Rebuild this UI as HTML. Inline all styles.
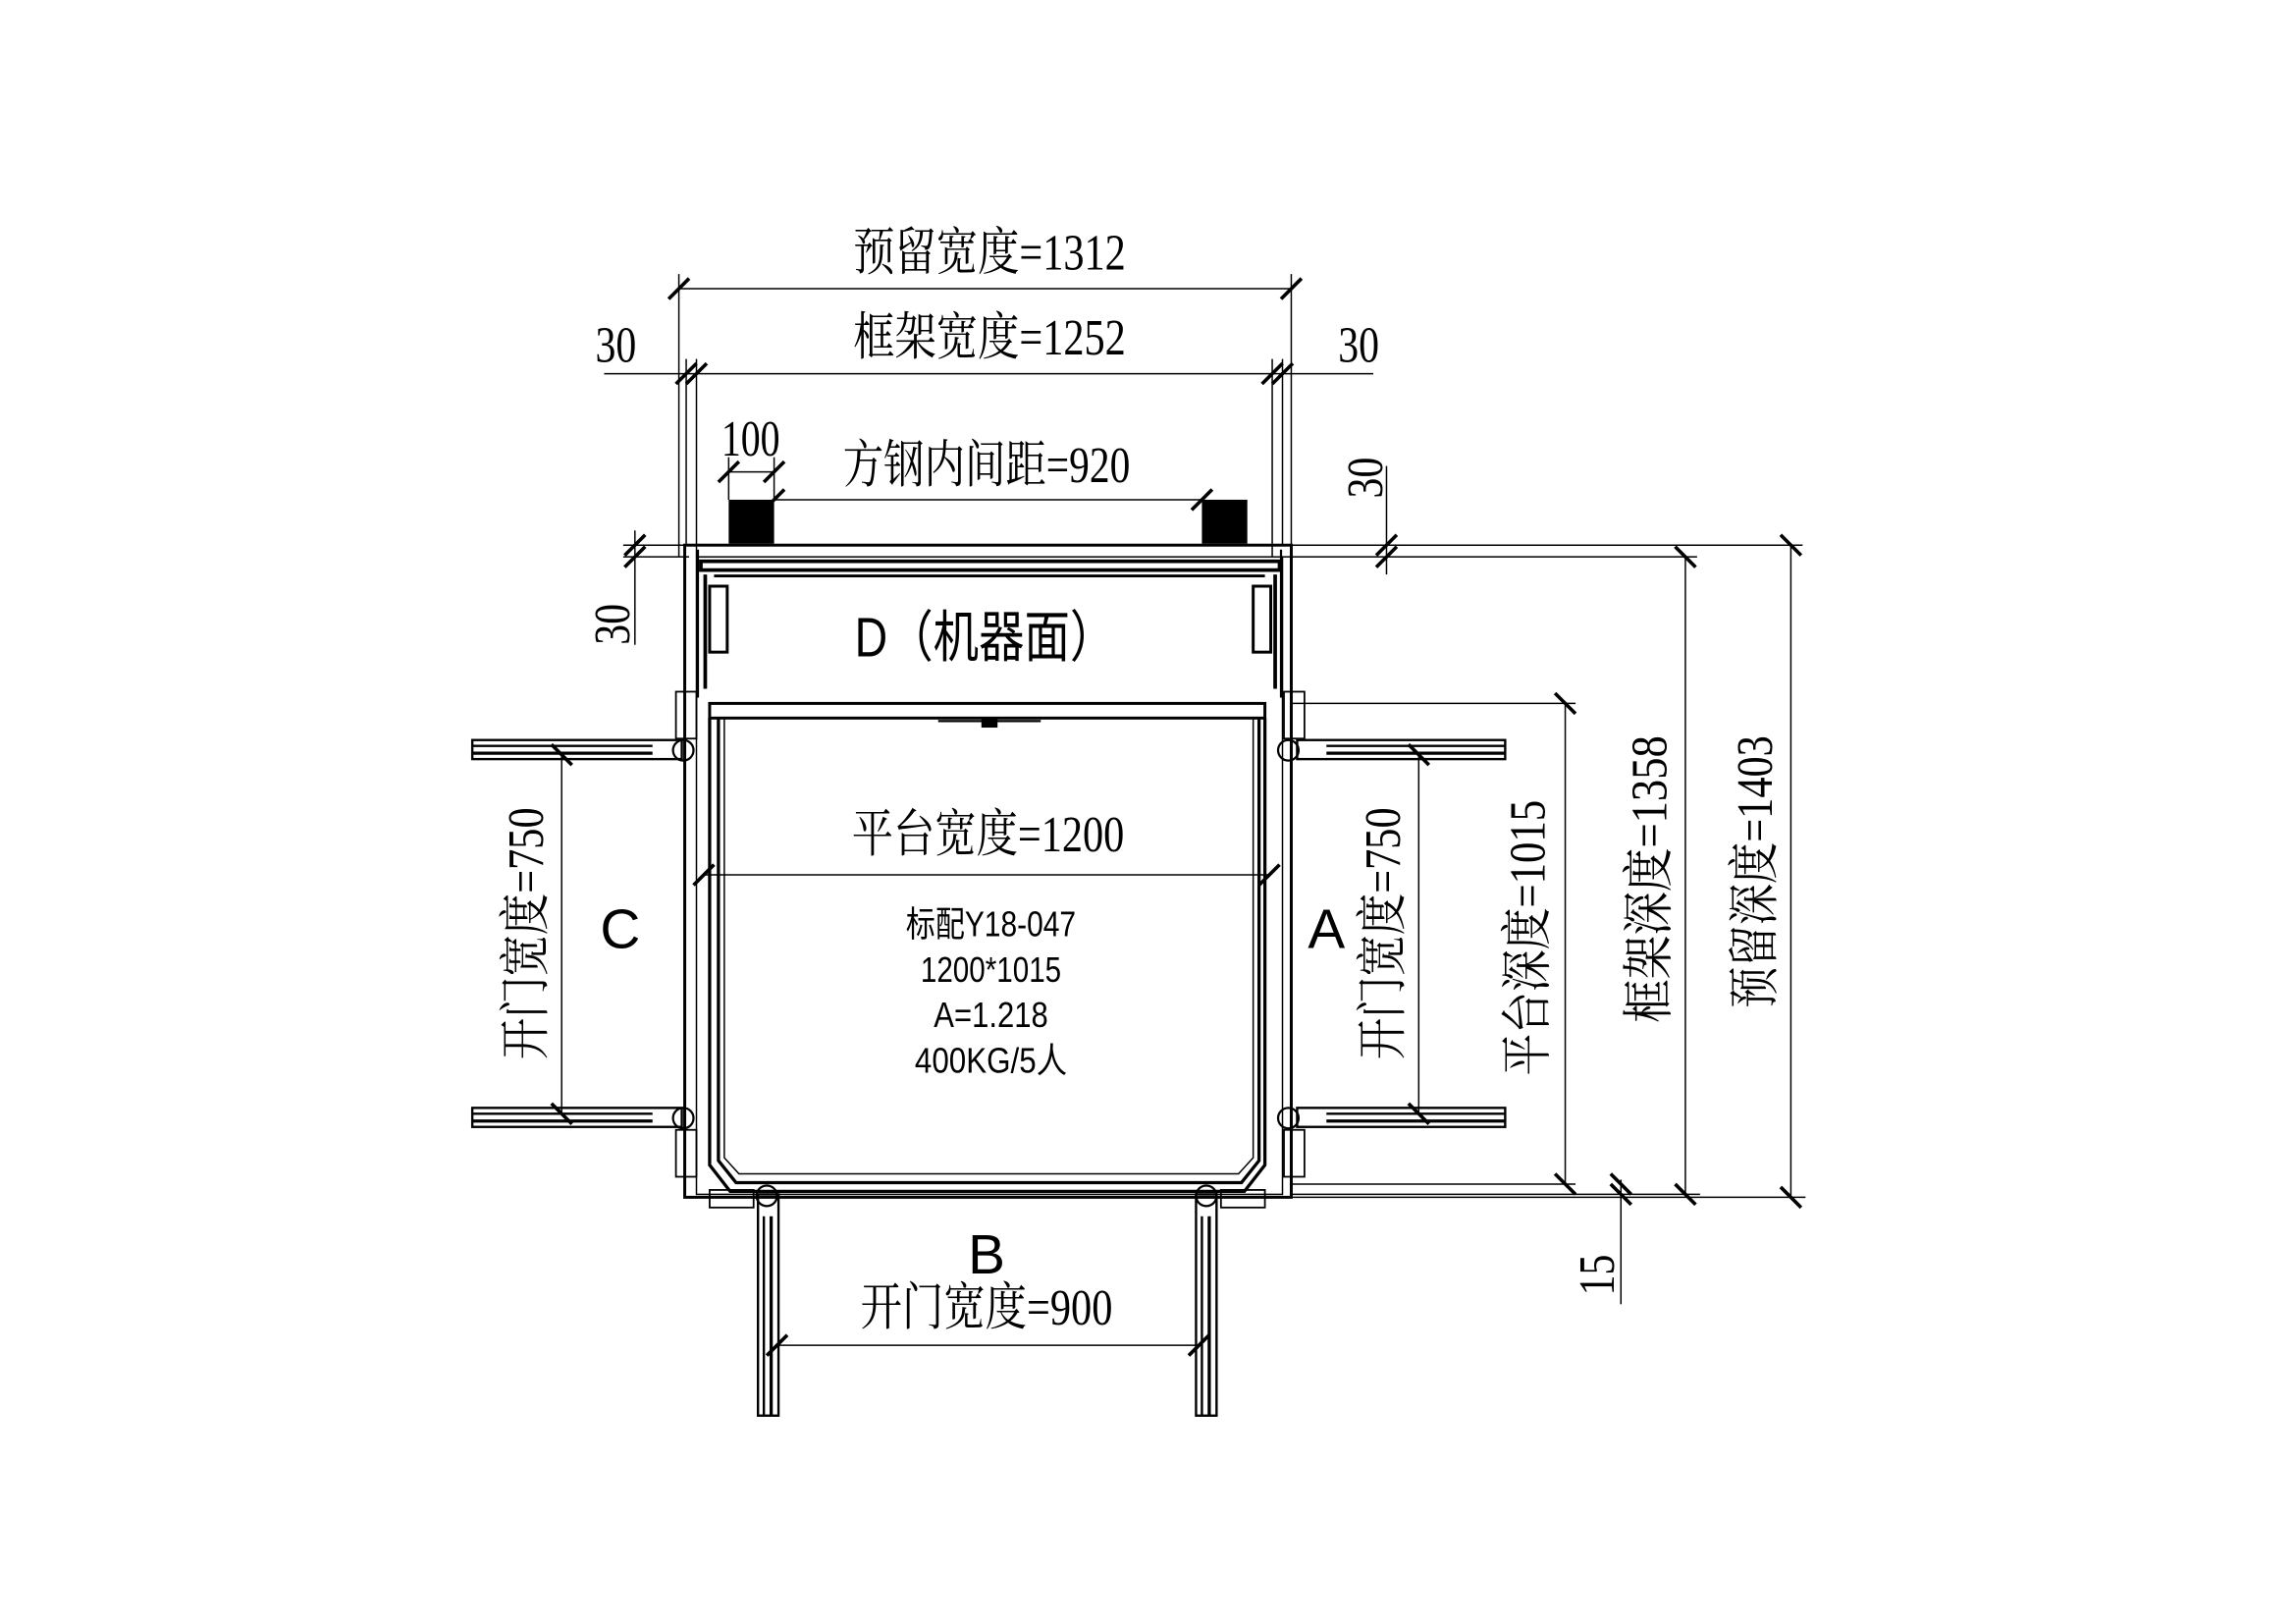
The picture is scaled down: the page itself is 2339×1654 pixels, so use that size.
<!DOCTYPE html>
<html><head><meta charset="utf-8"><style>
html,body{margin:0;padding:0;background:#fff}
svg{display:block}
text{font-family:"Liberation Serif","Noto Serif CJK SC","Noto Sans CJK SC",serif;fill:#000}
.s{font-family:"Liberation Sans","Noto Sans CJK SC",sans-serif}
</style></head><body>
<svg width="2339" height="1654" viewBox="0 0 1552 1098" xmlns="http://www.w3.org/2000/svg">
<g transform="scale(0.9908)">
<g stroke="#000" fill="none" stroke-width="1">
<line x1="463" y1="197" x2="881" y2="197"/>
<line x1="412" y1="255" x2="937" y2="255"/>
<line x1="463" y1="187" x2="463" y2="380"/>
<line x1="468" y1="245" x2="468" y2="372"/>
<line x1="475" y1="245" x2="475" y2="380"/>
<line x1="868" y1="245" x2="868" y2="380"/>
<line x1="875" y1="245" x2="875" y2="372"/>
<line x1="881" y1="187" x2="881" y2="380"/>
<line x1="497" y1="312" x2="497" y2="341"/>
<line x1="528" y1="312" x2="528" y2="341"/>
<line x1="497" y1="322" x2="528" y2="322"/>
<line x1="528" y1="341" x2="820" y2="341"/>
<line x1="881" y1="372" x2="1230" y2="372"/>
<line x1="875" y1="380" x2="1158" y2="380"/>
<line x1="425" y1="380" x2="470" y2="380"/>
<line x1="425" y1="372" x2="470" y2="372"/>
<line x1="946" y1="318" x2="946" y2="392"/>
<line x1="433" y1="362" x2="433" y2="440"/>
<line x1="880" y1="480" x2="1075" y2="480"/>
<line x1="880" y1="808" x2="1075" y2="808"/>
<line x1="880" y1="815" x2="1160" y2="815"/>
<line x1="880" y1="817" x2="1232" y2="817"/>
<line x1="1068" y1="480" x2="1068" y2="808"/>
<line x1="1150" y1="380" x2="1150" y2="815"/>
<line x1="1222" y1="372" x2="1222" y2="817"/>
<line x1="1106" y1="805" x2="1106" y2="890"/>
<line x1="383" y1="515" x2="383" y2="760"/>
<line x1="968" y1="515" x2="968" y2="760"/>
<line x1="480" y1="597" x2="866" y2="597"/>
<line x1="530" y1="918" x2="818" y2="918"/>
</g>
<g stroke="#000" stroke-width="2.4">
<path d="M456 204l14-14M461 262l14-14M468 262l14-14M861 262l14-14M868 262l14-14M874 204l14-14"/>
<path d="M490 329l14-14M521 329l14-14M521 348l14-14M813 348l14-14"/>
<path d="M426 387l14-14M426 379l14-14M939 387l14-14M939 379l14-14"/>
<path d="M473 604l14-14M859 604l14-14M523 925l14-14M811 925l14-14"/>
<path d="M376 508l14 14M376 753l14 14M961 508l14 14M961 753l14 14"/>
<path d="M1061 473l14 14M1061 801l14 14M1143 373l14 14M1143 808l14 14M1215 365l14 14M1215 810l14 14M1099 801l14 14M1099 808l14 14"/>
</g>
<rect x="497" y="341" width="31" height="30" fill="#000"/>
<rect x="820" y="341" width="31" height="30" fill="#000"/>
<g fill="none" stroke="#000">
<rect x="467" y="372" width="414" height="445" stroke-width="2"/>
<rect x="475" y="380" width="400" height="435" stroke-width="1"/>
<rect x="478" y="383" width="395" height="6" stroke-width="2.5"/>
<line x1="487" y1="393" x2="863" y2="393" stroke-width="2"/>
<line x1="481" y1="392" x2="481" y2="470" stroke-width="2.5"/>
<line x1="870" y1="392" x2="870" y2="470" stroke-width="2.5"/>
<rect x="484" y="400" width="12" height="45" stroke-width="2"/>
<rect x="855" y="400" width="12" height="45" stroke-width="2"/>
<line x1="476" y1="375" x2="476" y2="476" stroke-width="1.5"/>
<line x1="874" y1="375" x2="874" y2="476" stroke-width="1.5"/>
<rect x="484" y="480" width="379" height="10" stroke-width="2"/>
<path d="M484 490V795l14 18h351l14-18V490" stroke-width="2.2"/>
<path d="M490 490V792l12 15h345l12-15V490" stroke-width="2.2"/>
<path d="M494 490V790l10 11h341l10-11V490" stroke-width="1"/>
<rect x="670" y="490" width="10" height="6" fill="#000"/>
<line x1="640" y1="492" x2="710" y2="492" stroke-width="1.5"/>
<!-- door rails -->
<g stroke-width="1.6">
<rect x="322" y="505" width="143" height="13"/>
<line x1="322" y1="509" x2="445" y2="509"/><line x1="322" y1="514" x2="445" y2="514" stroke-width="2.2"/>
<rect x="322" y="756" width="143" height="13"/>
<line x1="322" y1="760" x2="445" y2="760"/><line x1="322" y1="765" x2="445" y2="765" stroke-width="2.2"/>
<rect x="885" y="505" width="142" height="13"/>
<line x1="905" y1="509" x2="1027" y2="509"/><line x1="905" y1="514" x2="1027" y2="514" stroke-width="2.2"/>
<rect x="885" y="756" width="142" height="13"/>
<line x1="905" y1="760" x2="1027" y2="760"/><line x1="905" y1="765" x2="1027" y2="765" stroke-width="2.2"/>
<rect x="517" y="815" width="14" height="151"/>
<line x1="521" y1="830" x2="521" y2="966"/><line x1="526" y1="830" x2="526" y2="966" stroke-width="2.2"/>
<rect x="816" y="815" width="14" height="151"/>
<line x1="820" y1="830" x2="820" y2="966"/><line x1="825" y1="830" x2="825" y2="966" stroke-width="2.2"/>
</g>
<circle cx="466" cy="512" r="7" stroke-width="1.5"/>
<circle cx="466" cy="763" r="7" stroke-width="1.5"/>
<circle cx="879" cy="512" r="7" stroke-width="1.5"/>
<circle cx="879" cy="763" r="7" stroke-width="1.5"/>
<circle cx="523" cy="816" r="7" stroke-width="1.5"/>
<circle cx="823" cy="816" r="7" stroke-width="1.5"/>
<rect x="461" y="472" width="14" height="32" stroke-width="1.2"/>
<rect x="876" y="472" width="14" height="32" stroke-width="1.2"/>
<rect x="461" y="771" width="14" height="32" stroke-width="1.2"/>
<rect x="876" y="771" width="14" height="32" stroke-width="1.2"/>
<rect x="484" y="812" width="30" height="12" stroke-width="1.2"/>
<rect x="833" y="812" width="30" height="12" stroke-width="1.2"/>
</g>
<g font-size="35">
<text x="675" y="184" text-anchor="middle" textLength="186" lengthAdjust="spacingAndGlyphs">预留宽度=1312</text>
<text x="675" y="242" text-anchor="middle" textLength="186" lengthAdjust="spacingAndGlyphs">框架宽度=1252</text>
<text x="673" y="329" text-anchor="middle" textLength="196" lengthAdjust="spacingAndGlyphs">方钢内间距=920</text>
<text x="674" y="581" text-anchor="middle" textLength="186" lengthAdjust="spacingAndGlyphs">平台宽度=1200</text>
<text x="673" y="904" text-anchor="middle" textLength="172" lengthAdjust="spacingAndGlyphs">开门宽度=900</text>
<text x="420" y="247" text-anchor="middle" textLength="28" lengthAdjust="spacingAndGlyphs">30</text>
<text x="927" y="247" text-anchor="middle" textLength="28" lengthAdjust="spacingAndGlyphs">30</text>
<text x="512" y="311" text-anchor="middle" textLength="40" lengthAdjust="spacingAndGlyphs">100</text>
<text transform="translate(943,326) rotate(-90)" text-anchor="middle" textLength="28" lengthAdjust="spacingAndGlyphs">30</text>
<text transform="translate(429,426) rotate(-90)" text-anchor="middle" textLength="28" lengthAdjust="spacingAndGlyphs">30</text>
<text transform="translate(1101,870) rotate(-90)" text-anchor="middle" textLength="28" lengthAdjust="spacingAndGlyphs">15</text>
<text transform="translate(370,637) rotate(-90)" text-anchor="middle" textLength="172" lengthAdjust="spacingAndGlyphs">开门宽度=750</text>
<text transform="translate(955,637) rotate(-90)" text-anchor="middle" textLength="172" lengthAdjust="spacingAndGlyphs">开门宽度=750</text>
<text transform="translate(1054,640) rotate(-90)" text-anchor="middle" textLength="188" lengthAdjust="spacingAndGlyphs">平台深度=1015</text>
<text transform="translate(1137,600) rotate(-90)" text-anchor="middle" textLength="196" lengthAdjust="spacingAndGlyphs">框架深度=1358</text>
<text transform="translate(1209,595) rotate(-90)" text-anchor="middle" textLength="186" lengthAdjust="spacingAndGlyphs">预留深度=1403</text>
</g>
<g font-size="38">
<text class="s" x="672" y="448" text-anchor="middle" textLength="178" lengthAdjust="spacingAndGlyphs">D（机器面）</text>
<text class="s" x="423" y="647" text-anchor="middle">C</text>
<text class="s" x="905" y="647" text-anchor="middle">A</text>
<text class="s" x="673" y="869" text-anchor="middle">B</text>
</g>
<g font-size="24">
<text class="s" x="676" y="639" text-anchor="middle" textLength="116" lengthAdjust="spacingAndGlyphs">标配Y18-047</text>
<text class="s" x="676" y="670" text-anchor="middle" textLength="96" lengthAdjust="spacingAndGlyphs">1200*1015</text>
<text class="s" x="676" y="701" text-anchor="middle" textLength="78" lengthAdjust="spacingAndGlyphs">A=1.218</text>
<text class="s" x="676" y="732" text-anchor="middle" textLength="104" lengthAdjust="spacingAndGlyphs">400KG/5人</text>
</g>
</g>
</svg>
</body></html>
